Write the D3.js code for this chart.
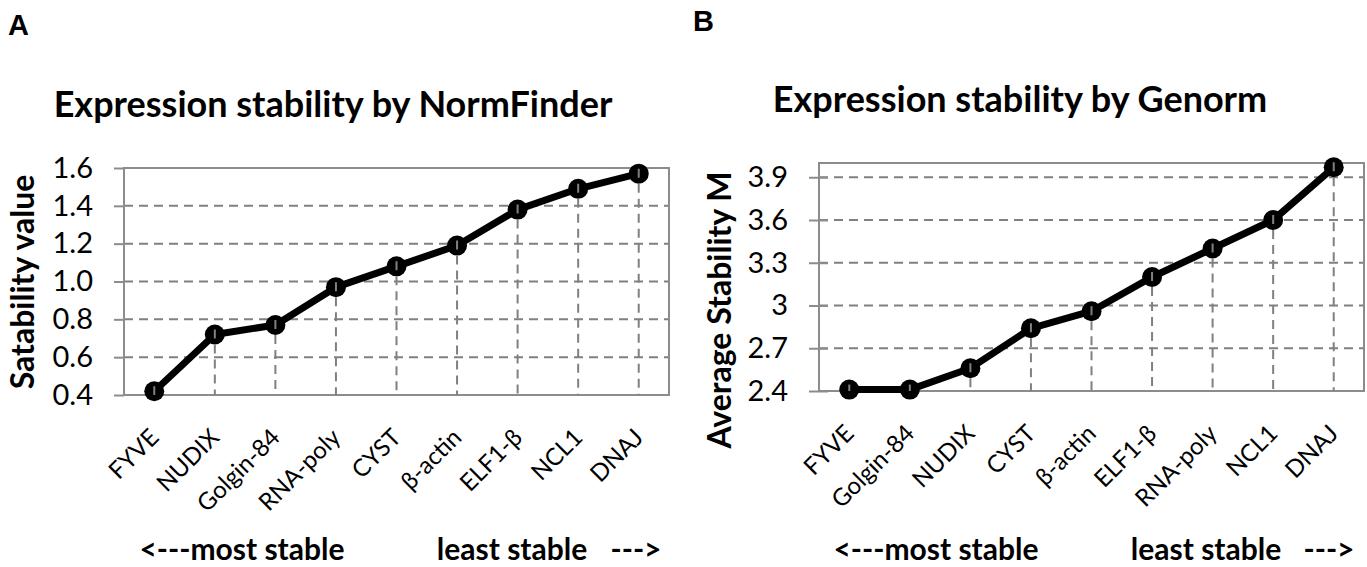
<!DOCTYPE html>
<html>
<head>
<meta charset="utf-8">
<script src="https://cdn.jsdelivr.net/npm/d3@7"></script>
<style>
  body { margin: 0; background: #fff; }
  svg { display: block; }
  text { font-family: Lato, "Open Sans", "DejaVu Sans", sans-serif; fill: #000; }
</style>
</head>
<body>
<div id="chart"></div>
<script>
// panel A - NormFinder
const categoriesA = ["FYVE", "NUDIX", "Golgin-84", "RNA-poly", "CYST", "β-actin", "ELF1-β", "NCL1", "DNAJ"];
const valuesA = [0.42, 0.72, 0.77, 0.97, 1.08, 1.19, 1.38, 1.49, 1.57];
const yTicksA = [0.4, 0.6, 0.8, 1.0, 1.2, 1.4, 1.6];
const yTickLabelsA = ["0.4", "0.6", "0.8", "1.0", "1.2", "1.4", "1.6"];

// panel B - geNorm
const categoriesB = ["FYVE", "Golgin-84", "NUDIX", "CYST", "β-actin", "ELF1-β", "RNA-poly", "NCL1", "DNAJ"];
const valuesB = [2.41, 2.41, 2.56, 2.84, 2.96, 3.20, 3.40, 3.60, 3.97];
const yTicksB = [2.4, 2.7, 3, 3.3, 3.6, 3.9];
const yTickLabelsB = ["2.4", "2.7", "3", "3.3", "3.6", "3.9"];

const W = 1367, H = 567;

const svg = d3.select("#chart")
  .append("svg")
  .attr("width", W)
  .attr("height", H);

const panels = [
  {
    letter: "A", letterX: 8, letterY: 35,
    title: "Expression stability by NormFinder", titleX: 333, titleY: 117,
    yTitle: "Satability value", yTitleX: 34, yTitleY: 282,
    cats: categoriesA, vals: valuesA, ticks: yTicksA, tickLabels: yTickLabelsA,
    domain: [0.4, 1.6],
    left: 124, right: 669, top: 168, bottom: 395,
    tickCross: 0,
    notes: [["<---most stable", 242], ["least stable", 512], ["--->", 636]]
  },
  {
    letter: "B", letterX: 693, letterY: 31,
    title: "Expression stability by Genorm", titleX: 1020, titleY: 112,
    yTitle: "Average Stability M", yTitleX: 731, yTitleY: 310,
    cats: categoriesB, vals: valuesB, ticks: yTicksB, tickLabels: yTickLabelsB,
    domain: [2.4, 4.0],
    left: 819, right: 1364, top: 163, bottom: 391,
    tickCross: 9,
    notes: [["<---most stable", 936], ["least stable", 1206], ["--->", 1329]]
  }
];

panels.forEach(p => {
  const g = svg.append("g");

  const x = d3.scaleBand()
    .domain(p.cats)
    .range([p.left, p.right]);

  const y = d3.scaleLinear()
    .domain(p.domain)
    .range([p.bottom, p.top]);

  // panel letter + title
  g.append("text")
    .attr("x", p.letterX).attr("y", p.letterY)
    .style("font-family", "Arial, 'Liberation Sans', sans-serif")
    .style("font-weight", "bold").style("font-size", "29px")
    .text(p.letter);

  g.append("text")
    .attr("x", p.titleX).attr("y", p.titleY)
    .style("text-anchor", "middle")
    .style("font-weight", "bold").style("font-size", "36px")
    .text(p.title);

  // horizontal dashed gridlines
  g.append("g")
    .selectAll("line")
    .data(p.ticks.filter(t => t !== p.domain[0]))
    .enter()
    .append("line")
    .attr("x1", p.left).attr("x2", p.right)
    .attr("y1", d => y(d)).attr("y2", d => y(d))
    .attr("stroke", "#808080")
    .attr("stroke-width", 2)
    .attr("stroke-dasharray", "9,6");

  // plot frame
  g.append("rect")
    .attr("x", p.left).attr("y", p.top)
    .attr("width", p.right - p.left)
    .attr("height", p.bottom - p.top)
    .attr("fill", "none")
    .attr("stroke", "#8c8c8c")
    .attr("stroke-width", 2);

  // y axis
  const yAxis = g.append("g")
    .attr("transform", `translate(${p.left},0)`)
    .call(d3.axisLeft(y)
      .tickValues(p.ticks)
      .tickFormat((d, i) => p.tickLabels[i])
      .tickSize(10)
      .tickPadding(21));
  yAxis.select(".domain").remove();
  yAxis.selectAll(".tick line")
    .attr("x2", p.tickCross)
    .attr("x1", -10)
    .attr("stroke", "#8c8c8c")
    .attr("stroke-width", 2);
  yAxis.selectAll(".tick text")
    .style("font-size", "29px")
    .style("font-family", "Lato, 'Open Sans', sans-serif")
    .attr("fill", "#000");

  // x axis, rotated category labels
  const xAxis = g.append("g")
    .attr("transform", `translate(0,${p.bottom})`)
    .call(d3.axisBottom(x).tickSize(0));
  xAxis.select(".domain").remove();
  xAxis.selectAll(".tick text")
    .attr("y", null)
    .attr("dy", null)
    .attr("transform", "translate(6,44) rotate(-45)")
    .style("text-anchor", "end")
    .style("font-size", "24px")
    .style("font-family", "Lato, 'Open Sans', 'DejaVu Sans', sans-serif")
    .attr("fill", "#000");

  // axis title
  g.append("text")
    .attr("transform", `translate(${p.yTitleX},${p.yTitleY}) rotate(-90)`)
    .style("text-anchor", "middle")
    .style("font-weight", "bold").style("font-size", "32px")
    .text(p.yTitle);

  const pts = p.cats.map((c, i) => ({ cat: c, val: p.vals[i] }));

  const line = d3.line()
    .x(d => x(d.cat) + x.bandwidth() / 2)
    .y(d => y(d.val));

  g.append("path")
    .datum(pts)
    .attr("d", line)
    .attr("fill", "none")
    .attr("stroke", "#000")
    .attr("stroke-width", 7)
    .attr("stroke-linejoin", "round");

  g.selectAll(".dot")
    .data(pts)
    .enter()
    .append("circle")
    .attr("cx", d => x(d.cat) + x.bandwidth() / 2)
    .attr("cy", d => y(d.val))
    .attr("r", 10)
    .attr("fill", "#000");

  // drop lines from each point to the axis
  g.selectAll(".drop")
    .data(pts)
    .enter()
    .append("line")
    .attr("x1", d => x(d.cat) + x.bandwidth() / 2)
    .attr("x2", d => x(d.cat) + x.bandwidth() / 2)
    .attr("y1", d => y(d.val) - 5)
    .attr("y2", p.bottom)
    .attr("stroke", "#808080")
    .attr("stroke-width", 2)
    .attr("stroke-dasharray", "9,6");

  // bottom notes
  g.selectAll(".note")
    .data(p.notes)
    .enter()
    .append("text")
    .attr("x", d => d[1])
    .attr("y", 560)
    .style("text-anchor", "middle")
    .style("font-weight", "bold")
    .style("font-size", "30px")
    .text(d => d[0]);
});
</script>
</body>
</html>
